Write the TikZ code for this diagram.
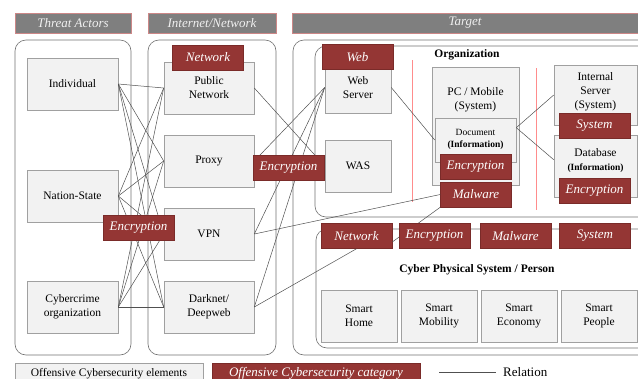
\documentclass[tikz,border=0pt]{standalone}
\usepackage{fontspec}
\setmainfont{Liberation Serif}
\usetikzlibrary{calc}
\definecolor{labred}{HTML}{943634}
\definecolor{labedge}{HTML}{7A2B29}
\definecolor{headgray}{HTML}{7F7F7F}
\definecolor{headtext}{HTML}{F0F0F0}
\definecolor{boxfill}{HTML}{F2F2F2}
\definecolor{boxline}{HTML}{A0A0A0}
\definecolor{frameline}{HTML}{707070}
\definecolor{relline}{HTML}{505050}
\definecolor{sepred}{HTML}{FF8C8C}
\tikzset{
  headbar/.style={fill=headgray, draw=sepred!60!headgray, line width=0.5pt},
  headtitle/.style={text=headtext, font=\fontsize{13}{15}\selectfont\itshape, inner sep=0pt},
  frame/.style={draw=frameline, line width=0.6pt, rounded corners=11pt},
  elem/.style={fill=boxfill, draw=boxline, line width=0.6pt, align=center,
    font=\fontsize{11.5}{14}\selectfont, inner sep=0pt},
  cat/.style={fill=labred, draw=labedge, line width=0.5pt, text=white,
    font=\fontsize{13}{15}\selectfont\itshape, minimum width=71, minimum height=25,
    inner sep=0pt},
  rel/.style={draw=relline, line width=0.5pt},
  sep/.style={draw=sepred, line width=0.6pt},
  note/.style={align=center, font=\fontsize{11.5}{14}\selectfont, inner sep=0pt},
  boldnote/.style={font=\fontsize{11.5}{13.5}\selectfont\bfseries, inner sep=0pt}
}
\begin{document}
\begin{tikzpicture}[x=1pt, y=-1pt]
\useasboundingbox (0,0) rectangle (638,378);
\clip (0,0) rectangle (638,378);

% column headers
\draw[headbar] (15,13) rectangle (131,33);
\draw[headbar] (148,13) rectangle (276,33);
\draw[headbar] (292,13) rectangle (650,33);
\node[headtitle] (hActors) at (73,23) {Threat Actors};
\node[headtitle] (hNet) at (212,23) {Internet/Network};
\node[headtitle] (hTarget) at (465,23) {Target};

% containers
\draw[frame] (15,40) rectangle (131,355);
\draw[frame] (148,40) rectangle (276,355);
\draw[frame] (293,40) rectangle (660,355);
\draw[frame] (315,46) rectangle (660,217);
\draw[frame] (316,229) rectangle (660,348);

% separators inside the organization
\draw[sep] (412,60) -- (412,202);
\draw[sep] (536,68) -- (536,210);
\node[boldnote] (org) at (467,55) {Organization};
\node[boldnote] (cpsTitle) at (477,270) {Cyber Physical System / Person};

% threat actors
\node[elem, minimum width=91, minimum height=52] (ind) at (72.5,84) {Individual};
\node[elem, minimum width=91, minimum height=52] (nat) at (72.5,196) {Nation-State};
\node[elem, minimum width=91, minimum height=52] (cyb) at (72.5,307) {Cybercrime\\organization};

% internet / network
\node[elem, minimum width=90, minimum height=52] (pub) at (209,88) {Public\\Network};
\node[elem, minimum width=90, minimum height=52] (prx) at (209,161) {Proxy};
\node[elem, minimum width=90, minimum height=52] (vpn) at (209,234) {VPN};
\node[elem, minimum width=90, minimum height=52] (dark) at (209,307) {Darknet/\\Deepweb};

% organization
\node[elem, minimum width=66, minimum height=51] (ws) at (358,87.5) {Web\\Server};
\node[elem, minimum width=66, minimum height=52] (was) at (358,166) {WAS};
\node[elem, minimum width=87, minimum height=118] (pc) at (475.5,126) {};
\node[note] (pcText) at (475.5,100) {PC / Mobile\\(System)};
\node[elem, minimum width=81, minimum height=44] (doc) at (475.5,140) {};
\node[note, font=\fontsize{9.5}{12.5}\selectfont] (docText) at (475.5,139.5) {Document\\\textbf{(Information)}};
\node[elem, minimum width=83, minimum height=60] (isrv) at (595.5,95) {};
\node[note] (isrvText) at (595.5,92) {Internal\\Server\\(System)};
\node[elem, minimum width=83, minimum height=62] (db) at (595.5,166) {};
\node[note] (dbText) at (595.5,161) {Database\\\textbf{\fontsize{9.5}{12}\selectfont(Information)}};

% cyber physical systems
\node[elem, minimum width=76, minimum height=52] (home) at (359,316) {Smart\\Home};
\node[elem, minimum width=76, minimum height=52] (mob) at (439,316) {Smart\\Mobility};
\node[elem, minimum width=76, minimum height=52] (eco) at (519,316) {Smart\\Economy};
\node[elem, minimum width=76, minimum height=52] (ppl) at (599,316) {Smart\\People};

% relations: threat actors to networks
\foreach \a in {ind,nat,cyb}{
  \foreach \n in {pub,prx,vpn,dark}{
    \draw[rel] (\a.east) -- (\n.west);
  }
}

% category labels that relations end on
\node[cat] (mal1) at (476,194.5) {Malware};
\node[cat] (net2) at (356.5,236) {Network};

% relations: networks to targets
\draw[rel] (pub.east) -- (was.west);
\draw[rel] (prx.east) -- (ws.west);
\draw[rel] (vpn.east) -- (ws.west);
\draw[rel] (dark.east) -- (ws.west);
\draw[rel] (vpn.east) -- (mal1.west);
\draw[rel] (dark.east) -- (net2.south);
\draw[rel] (mal1.south west) -- ([yshift=-6pt]net2.east);
\draw[rel] (ws.east) -- (doc.west);
\draw[rel] ([yshift=-10pt]doc.north east) -- (isrv.west);
\draw[rel] ([yshift=-10pt]doc.north east) -- ([yshift=-25pt]db.north west);

% remaining category labels
\node[cat] (netA) at (208,57.5) {Network};
\node[cat] (encA) at (138.5,227.5) {Encryption};
\node[cat] (encB) at (288.5,167.5) {Encryption};
\node[cat] (web) at (357.5,57) {Web};
\node[cat] (encC) at (475.5,167) {Encryption};
\node[cat] (sys1) at (594.5,125.5) {System};
\node[cat] (encD) at (594.5,191) {Encryption};
\node[cat] (enc2) at (434.5,236) {Encryption};
\node[cat] (mal2) at (515.5,236) {Malware};
\node[cat] (sys2) at (595,236) {System};

% legend
\node[elem, minimum width=188, minimum height=24, anchor=north west] (legElem) at (15,363) {};
\node[note] (legElemText) at (109,374) {Offensive Cybersecurity elements};
\node[cat, minimum width=208, minimum height=24, anchor=north west] (legCat) at (212,363) {};
\node[text=white, font=\fontsize{13}{15}\selectfont\itshape, inner sep=0pt] (legCatText) at (316,373) {Offensive Cybersecurity category};
\coordinate (legA) at (439,372);
\coordinate (legB) at (496,372);
\draw[rel] (legA) -- (legB);
\node[font=\fontsize{13}{15}\selectfont, anchor=west, inner sep=0pt] (legRel) at (503,372) {Relation};
\end{tikzpicture}
\end{document}
